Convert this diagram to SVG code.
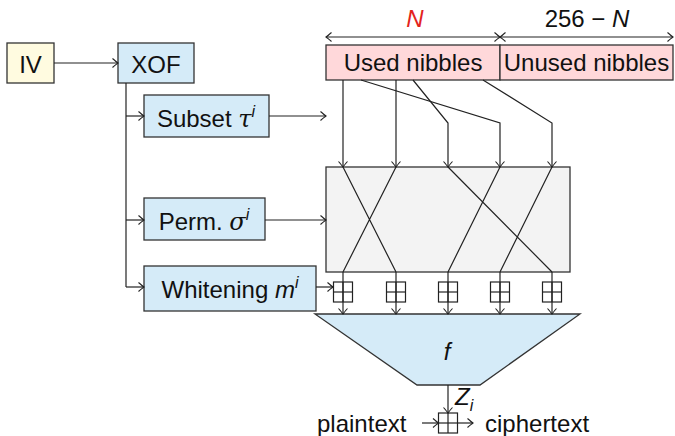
<svg xmlns="http://www.w3.org/2000/svg" width="675" height="436" viewBox="0 0 675 436">
<defs>
<marker id="ar" viewBox="-7 -6 8 12" markerWidth="8" markerHeight="12" refX="0" refY="0" orient="auto-start-reverse" markerUnits="userSpaceOnUse">
<path d="M-5.5,-4.5 Q-1.5,-1 0,0 Q-1.5,1 -5.5,4.5" fill="none" stroke="#222" stroke-width="1.1"/>
</marker>
<g id="xor"><rect x="-9.5" y="-10" width="19" height="20" fill="none" stroke="#222" stroke-width="1.2"/><line x1="-9.5" y1="0" x2="9.5" y2="0" stroke="#222" stroke-width="1.2"/><line x1="0" y1="-10" x2="0" y2="10" stroke="#222" stroke-width="1.2"/></g>
</defs>
<style>
text{font-family:"Liberation Sans","DejaVu Sans",sans-serif;font-size:24px;fill:#111;}
.box{stroke:#333;stroke-width:1.3;}
.blue{fill:#d5ebf8;}
.pink{fill:#ffd8da;}
.c{stroke:#222;stroke-width:1.2;fill:none;}
.a{marker-end:url(#ar);}
.it{font-style:italic;}
.gr{font-family:"DejaVu Serif","Liberation Serif",serif;font-style:italic;}
</style>

<g id="iv"><rect class="box" x="7" y="43" width="47" height="40" fill="#fffbe0"/><text x="30.5" y="73" text-anchor="middle" font-size="27">IV</text></g>
<g id="xof"><rect class="box blue" x="118" y="43" width="76" height="40"/><text x="156" y="73" text-anchor="middle" font-size="27">XOF</text></g>
<g id="subset"><rect class="box blue" x="144" y="95" width="125" height="42"/><text x="206" y="127" text-anchor="middle">Subset <tspan class="gr">τ</tspan><tspan class="it" font-size="16" dy="-10">i</tspan></text></g>
<g id="perm"><rect class="box blue" x="144" y="198" width="121" height="42"/><text x="204" y="230" text-anchor="middle">Perm. <tspan class="gr">σ</tspan><tspan class="it" font-size="16" dy="-10">i</tspan></text></g>
<g id="whitening"><rect class="box blue" x="144" y="266" width="172" height="45"/><text x="230" y="298" text-anchor="middle" font-size="24.5">Whitening <tspan class="it">m</tspan><tspan class="it" font-size="16" dy="-10">i</tspan></text></g>
<g id="used"><rect class="box pink" x="326" y="45" width="174" height="35"/><text x="413" y="71" text-anchor="middle">Used nibbles</text></g>
<g id="unused"><rect class="box pink" x="500" y="45" width="173" height="35"/><text x="586.5" y="71" text-anchor="middle">Unused nibbles</text></g>
<g id="labels">
<text x="415" y="27" text-anchor="middle" class="it" style="fill:#e3231c">N</text>
<text x="587" y="27" text-anchor="middle">256 − <tspan class="it">N</tspan></text>
</g>
<g id="perm-box"><rect class="box" x="326" y="167" width="244" height="105" fill="#f3f3f3"/></g>
<g id="f"><polygon class="box blue" points="315,314 580,314 480,385 417,385"/><text x="447" y="360" text-anchor="middle" class="it">f</text></g>
<g id="xors">
<use href="#xor" x="343" y="292"/>
<use href="#xor" x="396" y="292"/>
<use href="#xor" x="448" y="292"/>
<use href="#xor" x="500" y="292"/>
<use href="#xor" x="552" y="292"/>
<use href="#xor" x="448" y="423"/>
</g>
<g id="bottom-text">
<text x="317" y="432">plaintext</text>
<text x="485" y="432">ciphertext</text>
<text x="455" y="405" class="it">Z<tspan font-size="16" dy="6">i</tspan></text>
</g>
<g id="connectors">
<line class="c a" x1="326" y1="37" x2="500" y2="37" marker-start="url(#ar)"/>
<line class="c a" x1="500" y1="37" x2="673" y2="37" marker-start="url(#ar)"/>
<line class="c a" x1="54" y1="63" x2="118" y2="63"/>
<path class="c" d="M126,83 V287"/>
<line class="c a" x1="126" y1="116" x2="144" y2="116"/>
<line class="c a" x1="126" y1="220" x2="144" y2="220"/>
<line class="c a" x1="126" y1="287" x2="144" y2="287"/>
<line class="c a" x1="269" y1="116" x2="326" y2="116"/>
<line class="c a" x1="265" y1="220" x2="326" y2="220"/>
<line class="c a" x1="316" y1="287" x2="333" y2="287"/>
<path class="c a" d="M343,80 V167"/>
<path class="c a" d="M361,80 L500,123 V167"/>
<path class="c a" d="M396,80 V167"/>
<path class="c a" d="M413,80 L448,123 V167"/>
<path class="c a" d="M483,80 L552,123 V167"/>
<path class="c" d="M343,167 L396,272 M396,167 L343,272 M448,167 L552,272 M500,167 L448,272 M552,167 L500,272"/>
<path class="c a" d="M343,272 V314"/>
<path class="c a" d="M396,272 V314"/>
<path class="c a" d="M448,272 V314"/>
<path class="c a" d="M500,272 V314"/>
<path class="c a" d="M552,272 V314"/>
<path class="c a" d="M448,385 V413"/>
<line class="c a" x1="422" y1="423" x2="438.5" y2="423"/>
<line class="c a" x1="457.5" y1="423" x2="473" y2="423"/>
</g>
</svg>
